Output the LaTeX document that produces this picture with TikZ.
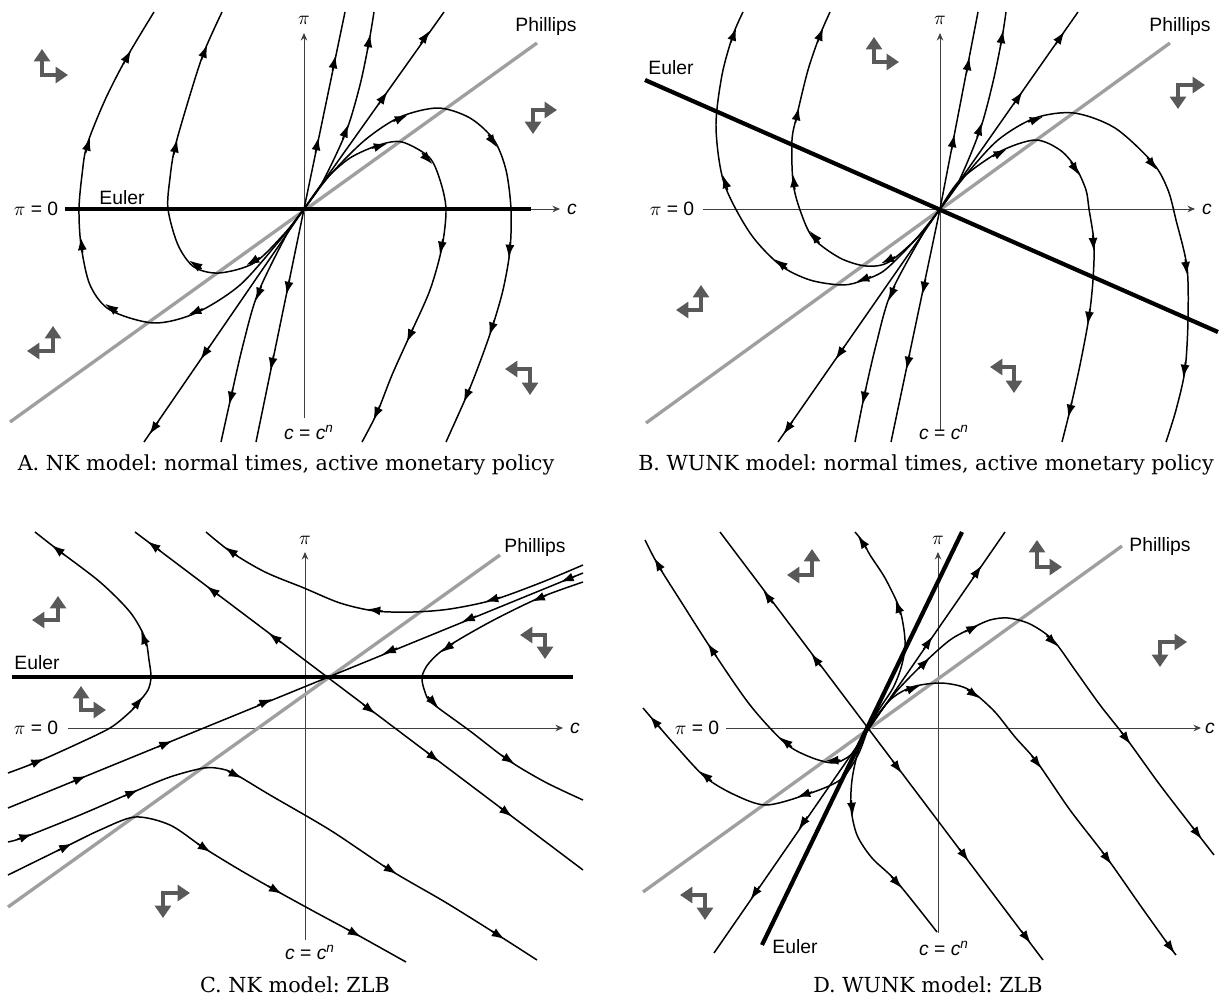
\documentclass[tikz,border=0pt]{standalone}
\usepackage{fontspec}
\setmainfont{DejaVu Serif}
\setsansfont{Liberation Sans}
\usetikzlibrary{arrows.meta, calc}
\frenchspacing

\tikzset{
  px/.style={x={(0.02cm,0)}, y={(0,-0.02cm)}},
  traj/.style={line width=0.85pt, line join=round},
  flowhead/.style={line width=0.85pt, -{Latex[length=2.6mm,width=1.8mm]}},
  axis/.style={line width=0.5pt, black!75, -{Stealth[length=1.5mm,width=1.3mm]}},
  euler/.style={line width=2.4pt},
  phillips/.style={line width=1.9pt, gray!75},
  dirarrow/.style={line width=2.3pt, black!65, {Triangle[length=7pt,width=9pt]}-{Triangle[length=7pt,width=9pt]}},
  lbl/.style={font=\fontsize{11}{13}\selectfont\sffamily, inner sep=0pt},
  captext/.style={font=\fontsize{11.8}{14}\selectfont, inner sep=0pt},
}
% arrow head on a trajectory: previous point, arrow point, next point
\newcommand\flowtip[3]{\draw[flowhead] ($#2!4.5pt!#1$) -- ($#2!4.5pt!#3$);}
% pair of grey direction arrows from a corner
\newcommand\dirpair[3]{\draw[dirarrow] ($#1+(0,#2)$) -- #1 -- ($#1+(#3,0)$);}

\begin{document}
\begin{tikzpicture}[px]
  \useasboundingbox (0,0) rectangle (1225,1004);

  %% ---------------- Panel A ----------------
  % axes
  \draw[axis] (65,209) -- (560,209);
  \draw[axis] (304,418) -- (304,33);
  \node[lbl] (cA) at (572,209) {\textit{c}};
  \node[lbl] (piA) at (304,20) {$\pi$};
  \node[lbl] (pi0A) at (36,209) {$\pi$ = 0};
  \node[lbl] (cnA) at (309,432) {\textit{c} = \textit{c}\textsuperscript{\textit{n}}};
  % Phillips and Euler
  \draw[phillips] (10,422) -- (537,43);
  \node[lbl] (phA) at (546,27) {Phillips};
  \draw[euler] (65,209) -- (531,209);
  \node[lbl] (euA) at (122,198) {Euler};
  % straight trajectories
  \draw[traj] (304,209) -- (345,12);
  \flowtip{(304,209)}{(317,145)}{(345,12)}
  \flowtip{(304,209)}{(334,63)}{(345,12)}
  \draw[traj] (304,209) -- (256,442);
  \flowtip{(304,209)}{(288,287)}{(256,442)}
  \flowtip{(304,209)}{(272,363)}{(256,442)}
  \draw[traj] (304,209) -- (444,12);
  \flowtip{(304,209)}{(383,98)}{(444,12)}
  \flowtip{(304,209)}{(425,37)}{(444,12)}
  \draw[traj] (304,209) -- (144,442);
  \flowtip{(304,209)}{(205,353)}{(144,442)}
  \flowtip{(304,209)}{(154,428)}{(144,442)}
  % curved trajectories
  \draw[traj] plot[smooth] coordinates {(304,209) (322,183) (346,132) (360,85) (369,42) (374,12)};
  \flowtip{(322,183)}{(346,132)}{(360,85)}
  \flowtip{(360,85)}{(369,42)}{(374,12)}
  \draw[traj] plot[smooth] coordinates {(304,209) (288,232) (258,293) (243,345) (231,397) (221,442)};
  \flowtip{(288,232)}{(258,293)}{(243,345)}
  \flowtip{(243,345)}{(231,397)}{(221,442)}
  \draw[traj] plot[smooth] coordinates {(304,209) (330,175) (365,140) (400,117) (438,108) (470,118) (494,140) (506,170) (511,209) (510,250) (503,290) (492,328) (480,362) (467,395) (446,442)};
  \flowtip{(365,140)}{(400,117)}{(438,108)}
  \flowtip{(470,118)}{(494,140)}{(506,170)}
  \flowtip{(511,209)}{(510,250)}{(503,290)}
  \flowtip{(503,290)}{(492,328)}{(480,362)}
  \flowtip{(480,362)}{(467,395)}{(446,442)}
  \draw[traj] plot[smooth] coordinates {(304,209) (325,180) (350,158) (379,145) (402,142) (429,157) (440,180) (446,209) (442,247) (430,290) (410,335) (392,375) (377,413) (362,442)};
  \flowtip{(350,158)}{(379,145)}{(402,142)}
  \flowtip{(402,142)}{(429,157)}{(440,180)}
  \flowtip{(446,209)}{(442,247)}{(430,290)}
  \flowtip{(430,290)}{(410,335)}{(392,375)}
  \flowtip{(392,375)}{(377,413)}{(362,442)}
  \draw[traj] plot[smooth] coordinates {(304,209) (280,240) (240,285) (196,313) (154,323) (110,310) (90,285) (81,245) (79,209) (82,175) (87,145) (105,100) (127,57) (154,12)};
  \flowtip{(240,285)}{(196,313)}{(154,323)}
  \flowtip{(154,323)}{(110,310)}{(90,285)}
  \flowtip{(90,285)}{(81,245)}{(79,209)}
  \flowtip{(82,175)}{(87,145)}{(105,100)}
  \flowtip{(105,100)}{(127,57)}{(154,12)}
  \draw[traj] plot[smooth] coordinates {(304,209) (285,233) (254,263) (219,273) (194,267) (178,245) (168,209) (170,178) (175,147) (190,95) (204,52) (222,12)};
  \flowtip{(285,233)}{(254,263)}{(219,273)}
  \flowtip{(219,273)}{(194,267)}{(178,245)}
  \flowtip{(170,178)}{(175,147)}{(190,95)}
  \flowtip{(190,95)}{(204,52)}{(222,12)}
  % direction arrows
  \dirpair{(42,75)}{-26}{26}
  \dirpair{(533,110)}{24}{24}
  \dirpair{(53,351)}{-25}{-26}
  \dirpair{(530,369)}{26}{-25}
  \node[captext] (capA) at (286,465) {A. NK model: normal times, active monetary policy};

  %% ---------------- Panel B ----------------
  \draw[axis] (703,209) -- (1195,209);
  \draw[axis] (940,430) -- (940,33);
  \node[lbl] (cB) at (1207,209) {\textit{c}};
  \node[lbl] (piB) at (940,20) {$\pi$};
  \node[lbl] (pi0B) at (672,209) {$\pi$ = 0};
  \node[lbl] (cnB) at (944,432) {\textit{c} = \textit{c}\textsuperscript{\textit{n}}};
  \draw[phillips] (646,423) -- (1170,43);
  \node[lbl] (phB) at (1180,27) {Phillips};
  \draw[euler] (645,80) -- (1218,332);
  \node[lbl] (euB) at (671,68) {Euler};
  \draw[traj] (940,209) -- (978,12);
  \flowtip{(940,209)}{(953,142)}{(978,12)}
  \flowtip{(940,209)}{(968,65)}{(978,12)}
  \draw[traj] (940,209) -- (891,442);
  \flowtip{(940,209)}{(924,287)}{(891,442)}
  \flowtip{(940,209)}{(908,362)}{(891,442)}
  \draw[traj] (940,209) -- (1078,12);
  \flowtip{(940,209)}{(1018,98)}{(1078,12)}
  \flowtip{(940,209)}{(1060,38)}{(1078,12)}
  \draw[traj] (940,209) -- (778,442);
  \flowtip{(940,209)}{(840,353)}{(778,442)}
  \flowtip{(940,209)}{(788,428)}{(778,442)}
  \draw[traj] plot[smooth] coordinates {(940,209) (958,183) (980,130) (993,82) (1002,38) (1006,12)};
  \flowtip{(958,183)}{(980,130)}{(993,82)}
  \flowtip{(993,82)}{(1002,38)}{(1006,12)}
  \draw[traj] plot[smooth] coordinates {(940,209) (924,232) (891,293) (876,345) (864,397) (855,442)};
  \flowtip{(924,232)}{(891,293)}{(876,345)}
  \flowtip{(876,345)}{(864,397)}{(855,442)}
  \draw[traj] plot[smooth] coordinates {(940,209) (965,176) (998,140) (1035,118) (1074,113) (1115,128) (1153,163) (1168,190) (1176,220) (1187,267) (1188,320) (1185,370) (1176,410) (1166,442)};
  \flowtip{(998,140)}{(1035,118)}{(1074,113)}
  \flowtip{(1115,128)}{(1153,163)}{(1168,190)}
  \flowtip{(1176,220)}{(1187,267)}{(1188,320)}
  \flowtip{(1188,320)}{(1185,370)}{(1176,410)}
  \draw[traj] plot[smooth] coordinates {(940,209) (960,180) (999,152) (1035,140) (1060,150) (1076,168) (1086,190) (1089,209) (1094,243) (1093,280) (1089,317) (1080,365) (1070,410) (1062,442)};
  \flowtip{(960,180)}{(999,152)}{(1035,140)}
  \flowtip{(1060,150)}{(1076,168)}{(1086,190)}
  \flowtip{(1089,209)}{(1094,243)}{(1093,280)}
  \flowtip{(1093,280)}{(1089,317)}{(1080,365)}
  \flowtip{(1080,365)}{(1070,410)}{(1062,442)}
  \draw[traj] plot[smooth] coordinates {(940,209) (915,240) (885,270) (864,280) (843,285) (810,280) (780,265) (750,233) (724,183) (716,127) (722,75) (733,35) (743,12)};
  \flowtip{(885,270)}{(864,280)}{(843,285)}
  \flowtip{(810,280)}{(780,265)}{(750,233)}
  \flowtip{(750,233)}{(724,183)}{(716,127)}
  \flowtip{(722,75)}{(733,35)}{(743,12)}
  \draw[traj] plot[smooth] coordinates {(940,209) (920,235) (889,262) (866,266) (840,258) (813,238) (800,210) (793,182) (792,140) (797,115) (808,70) (820,35) (830,12)};
  \flowtip{(920,235)}{(889,262)}{(866,266)}
  \flowtip{(840,258)}{(813,238)}{(800,210)}
  \flowtip{(800,210)}{(793,182)}{(792,140)}
  \flowtip{(792,140)}{(797,115)}{(808,70)}
  \flowtip{(808,70)}{(820,35)}{(830,12)}
  \dirpair{(874,62)}{-25}{25}
  \dirpair{(1178,85)}{24}{27}
  \dirpair{(701,310)}{-25}{-25}
  \dirpair{(1014,367)}{26}{-24}
  \node[captext] (capB) at (926,465) {B. WUNK model: normal times, active monetary policy};

  %% ---------------- Panel C ----------------
  \draw[axis] (68,728) -- (563,728);
  \draw[axis] (305,940) -- (305,552);
  \node[lbl] (cC) at (575,728) {\textit{c}};
  \node[lbl] (piC) at (305,540) {$\pi$};
  \node[lbl] (pi0C) at (36,728) {$\pi$ = 0};
  \node[lbl] (cnC) at (310,952) {\textit{c} = \textit{c}\textsuperscript{\textit{n}}};
  \draw[phillips] (8,907) -- (500,555);
  \node[lbl] (phC) at (535,547) {Phillips};
  \draw[euler] (12,677) -- (573,677);
  \node[lbl] (euC) at (37,663) {Euler};
  % saddle path and unstable line
  \draw[traj] (8,808) -- (583,573);
  \flowtip{(8,808)}{(79,779)}{(327,677)}
  \flowtip{(8,808)}{(165,744)}{(327,677)}
  \flowtip{(8,808)}{(265,702)}{(327,677)}
  \flowtip{(583,573)}{(568,579)}{(327,677)}
  \flowtip{(583,573)}{(469,619)}{(327,677)}
  \flowtip{(583,573)}{(390,651)}{(327,677)}
  \draw[traj] (135,532) -- (583,870);
  \flowtip{(327,677)}{(275,638)}{(135,532)}
  \flowtip{(327,677)}{(213,591)}{(135,532)}
  \flowtip{(327,677)}{(154,546)}{(135,532)}
  \flowtip{(327,677)}{(369,709)}{(583,870)}
  \flowtip{(327,677)}{(433,757)}{(583,870)}
  \flowtip{(327,677)}{(506,812)}{(583,870)}
  % hyperbolic trajectories
  \draw[traj] plot[smooth] coordinates {(583,565) (540,583) (493,600) (450,609) (413,612) (375,611) (340,603) (304,588) (265,572) (231,552) (206,532)};
  \flowtip{(540,583)}{(493,600)}{(450,609)}
  \flowtip{(413,612)}{(375,611)}{(340,603)}
  \flowtip{(265,572)}{(231,552)}{(206,532)}
  \draw[traj] plot[smooth] coordinates {(583,582) (539,598) (490,622) (447,647) (429,663) (422,677) (425,692) (432,703) (470,731) (508,760) (545,782) (583,800)};
  \flowtip{(583,582)}{(539,598)}{(490,622)}
  \flowtip{(490,622)}{(447,647)}{(429,663)}
  \flowtip{(425,692)}{(432,703)}{(470,731)}
  \flowtip{(470,731)}{(508,760)}{(545,782)}
  \draw[traj] plot[smooth] coordinates {(8,773) (37,762) (75,745) (110,728) (130,712) (138,703) (148,690) (151,677) (149,660) (145,638) (130,612) (100,582) (58,550) (35,532)};
  \flowtip{(8,773)}{(37,762)}{(75,745)}
  \flowtip{(130,712)}{(138,703)}{(148,690)}
  \flowtip{(149,660)}{(145,638)}{(130,612)}
  \flowtip{(100,582)}{(58,550)}{(35,532)}
  \draw[traj] plot[smooth] coordinates {(8,842) (25,837) (80,815) (131,793) (170,777) (204,768) (222,769) (235,774) (270,795) (330,830) (390,870) (445,902) (498,935) (537,960)};
  \flowtip{(8,842)}{(25,837)}{(80,815)}
  \flowtip{(80,815)}{(131,793)}{(170,777)}
  \flowtip{(222,769)}{(235,774)}{(270,795)}
  \flowtip{(330,830)}{(390,870)}{(445,902)}
  \flowtip{(445,902)}{(498,935)}{(537,960)}
  \draw[traj] plot[smooth] coordinates {(8,875) (65,847) (100,830) (135,817) (170,825) (204,848) (240,870) (275,890) (315,912) (354,933) (406,962)};
  \flowtip{(8,875)}{(65,847)}{(100,830)}
  \flowtip{(170,825)}{(204,848)}{(240,870)}
  \flowtip{(240,870)}{(275,890)}{(315,912)}
  \flowtip{(315,912)}{(354,933)}{(406,962)}
  \dirpair{(58,620)}{-24}{-26}
  \dirpair{(81,710)}{-24}{25}
  \dirpair{(545,635)}{24}{-25}
  \dirpair{(163,893)}{25}{27}
  \node[captext] (capC) at (295,985) {C. NK model: ZLB};

  %% ---------------- Panel D ----------------
  \draw[axis] (726,728) -- (1201,728);
  \draw[axis] (938,933) -- (938,552);
  \node[lbl] (cD) at (1210,728) {\textit{c}};
  \node[lbl] (piD) at (938,540) {$\pi$};
  \node[lbl] (pi0D) at (697,728) {$\pi$ = 0};
  \node[lbl] (cnD) at (944,948) {\textit{c} = \textit{c}\textsuperscript{\textit{n}}};
  \draw[phillips] (643,892) -- (1122,546);
  \node[lbl] (phD) at (1160,546) {Phillips};
  \draw[euler] (962,532) -- (762,945);
  \node[lbl] (euD) at (795,947) {Euler};
  % straight trajectories
  \draw[traj] (720,532) -- (1043,960);
  \flowtip{(868,728)}{(816,660)}{(720,532)}
  \flowtip{(868,728)}{(768,597)}{(720,532)}
  \flowtip{(868,728)}{(897,767)}{(1043,960)}
  \flowtip{(868,728)}{(964,855)}{(1043,960)}
  \flowtip{(868,728)}{(1026,937)}{(1043,960)}
  \draw[traj] (714,953) -- (1005,532);
  \flowtip{(868,728)}{(928,643)}{(1005,532)}
  \flowtip{(868,728)}{(977,572)}{(1005,532)}
  \flowtip{(868,728)}{(803,823)}{(714,953)}
  \flowtip{(868,728)}{(755,893)}{(714,953)}
  % curved trajectories
  \draw[traj] plot[smooth] coordinates {(868,728) (860,745) (848,757) (833,763) (810,757) (785,743) (750,705) (712,650) (680,600) (658,565) (645,540)};
  \flowtip{(848,757)}{(833,763)}{(810,757)}
  \flowtip{(810,757)}{(785,743)}{(750,705)}
  \flowtip{(750,705)}{(712,650)}{(680,600)}
  \flowtip{(680,600)}{(658,565)}{(645,540)}
  \draw[traj] plot[smooth] coordinates {(868,728) (858,755) (840,780) (805,795) (766,805) (735,795) (705,777) (675,745) (655,722) (643,708)};
  \flowtip{(840,780)}{(805,795)}{(766,805)}
  \flowtip{(735,795)}{(705,777)}{(675,745)}
  \flowtip{(675,745)}{(655,722)}{(643,708)}
  \draw[traj] plot[smooth] coordinates {(868,728) (880,708) (893,688) (901,668) (905,648) (904,630) (899,607) (885,578) (870,555) (863,542) (855,532)};
  \flowtip{(904,630)}{(899,607)}{(885,578)}
  \flowtip{(870,555)}{(863,542)}{(855,532)}
  \draw[traj] plot[smooth] coordinates {(868,728) (895,693) (924,663) (950,640) (972,628) (990,620) (1008,618) (1030,624) (1053,640) (1075,670) (1100,705) (1126,738) (1160,785) (1197,833) (1214,855)};
  \flowtip{(895,693)}{(924,663)}{(950,640)}
  \flowtip{(950,640)}{(972,628)}{(990,620)}
  \flowtip{(1030,624)}{(1053,640)}{(1075,670)}
  \flowtip{(1100,705)}{(1126,738)}{(1160,785)}
  \flowtip{(1160,785)}{(1197,833)}{(1214,855)}
  \draw[traj] plot[smooth] coordinates {(868,728) (890,700) (912,687) (939,683) (960,686) (974,693) (995,712) (1015,737) (1037,762) (1070,810) (1107,858) (1140,905) (1170,947) (1176,955)};
  \flowtip{(890,700)}{(912,687)}{(939,683)}
  \flowtip{(960,686)}{(974,693)}{(995,712)}
  \flowtip{(1015,737)}{(1037,762)}{(1070,810)}
  \flowtip{(1070,810)}{(1107,858)}{(1140,905)}
  \flowtip{(1140,905)}{(1170,947)}{(1176,955)}
  \draw[traj] plot[smooth] coordinates {(868,728) (858,752) (852,780) (851,808) (857,835) (872,858) (897,882) (937,932)};
  \flowtip{(852,780)}{(851,808)}{(857,835)}
  \flowtip{(872,858)}{(897,882)}{(937,932)}
  \dirpair{(812,575)}{-26}{-25}
  \dirpair{(1037,567)}{-27}{25}
  \dirpair{(1160,642)}{25}{27}
  \dirpair{(705,895)}{25}{-25}
  \node[captext] (capD) at (928,985) {D. WUNK model: ZLB};
\end{tikzpicture}
\end{document}
